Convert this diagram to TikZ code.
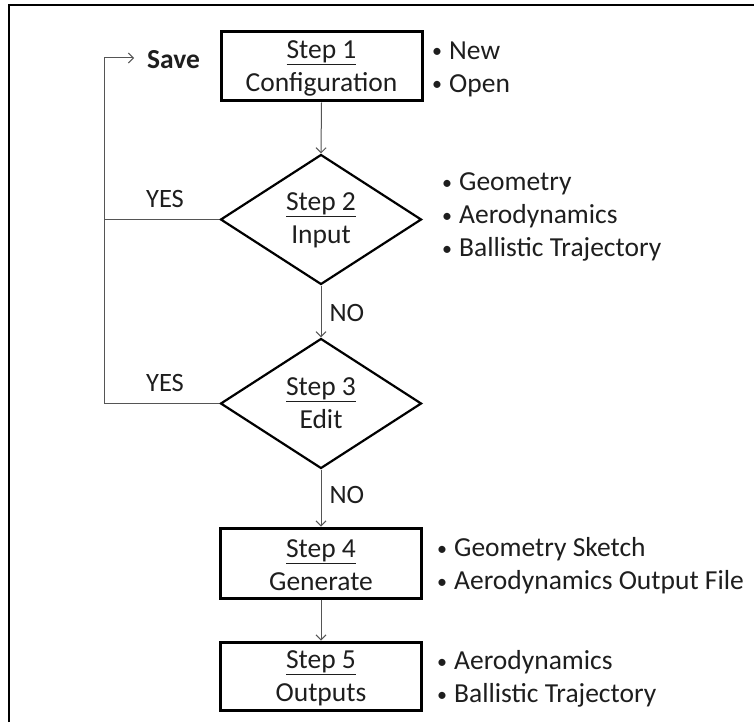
\documentclass[tikz,border=0pt]{standalone}
\usepackage{fontspec}
\setmainfont{Carlito}
\usetikzlibrary{shapes.geometric,arrows.meta}
\definecolor{txt}{HTML}{1E1E1E}
\definecolor{conn}{HTML}{555555}
\newcommand{\bul}{{\fontsize{20}{20}\selectfont\raisebox{1.5pt}{•}}\hspace{7pt}}
\newcommand{\stepul}[1]{\underline{#1}}
\tikzset{
  stepbox/.style={draw=black, line width=3pt, minimum width=201pt, minimum height=69pt, inner sep=0pt},
  decision/.style={draw=black, line width=2.2pt, shape=diamond, minimum width=201pt, minimum height=130pt, inner sep=0pt},
  steptext/.style={align=center, text=txt, font=\fontsize{27.5}{33}\selectfont, inner sep=0pt},
  bullets/.style={align=left, anchor=west, text=txt, font=\fontsize{27.5}{33}\selectfont, inner sep=0pt},
  lbl/.style={text=txt, font=\fontsize{26.5}{30}\selectfont, inner sep=0pt},
  conn/.style={draw=conn, line width=1pt},
  arr/.style={conn, -{Straight Barb[length=5pt,width=10pt]}},
  frame/.style={draw=black, line width=1.5pt}
}
\begin{document}
\begin{tikzpicture}[x=1pt,y=-1pt]
\useasboundingbox (0,0) rectangle (754,722);
\coordinate (fb) at (9,722);
\coordinate (ftl) at (9,5);
\coordinate (ftr) at (754,5);
\draw[frame] (fb) -- (ftl) -- (ftr);

% boxes
\node[stepbox] (s1) at (321.5,66.5) {};
\node[steptext] (t1) at (321.5,68) {\stepul{Step 1}\\Configuration};
\node[decision] (d2) at (321,219.5) {};
\node[steptext] (t2) at (321,220) {\stepul{Step 2}\\Input};
\node[decision] (d3) at (321,403.5) {};
\node[steptext] (t3) at (321,403) {\stepul{Step 3}\\Edit};
\node[stepbox, minimum height=70pt] (s4) at (321,563) {};
\node[steptext] (t4) at (321,565) {\stepul{Step 4}\\Generate};
\node[stepbox, minimum height=68pt] (s5) at (321,676) {};
\node[steptext] (t5) at (321,678) {\stepul{Step 5}\\Outputs};

% bullets
\node[bullets] (b1) at (432,69) {\bul New\\\bul Open};
\node[bullets] (b2) at (442,217) {\bul Geometry\\\bul Aerodynamics\\\bul Ballistic Trajectory};
\node[bullets] (b4) at (437,566) {\bul Geometry Sketch\\\bul Aerodynamics Output File};
\node[bullets] (b5) at (437,679) {\bul Aerodynamics\\\bul Ballistic Trajectory};

% connectors
\draw[arr] (s1.south) -- (d2.north);
\draw[arr] (d2.south) -- (d3.north) node[lbl, midway, anchor=west, xshift=8pt, yshift=-1pt] (no1) {NO};
\draw[arr] (d3.south) -- (s4.north) node[lbl, midway, anchor=west, xshift=8pt, yshift=3pt] (no2) {NO};
\draw[arr] (s4.south) -- (s5.north);

\coordinate (sv) at (104,58);
\coordinate (svend) at (134,58);
\coordinate (c2) at (d2.west -| sv);
\coordinate (c3) at (d3.west -| sv);
\draw[conn] (d2.west) -- (c2);
\draw[arr] (d3.west) -- (c3) -- (sv) -- (svend);
\node[lbl] (yes1) at (165,199) {YES};
\node[lbl] (yes2) at (165,383) {YES};
\node[lbl, font=\fontsize{27.5}{30}\selectfont\bfseries] (save) at (173.5,60) {Save};
\end{tikzpicture}
\end{document}
